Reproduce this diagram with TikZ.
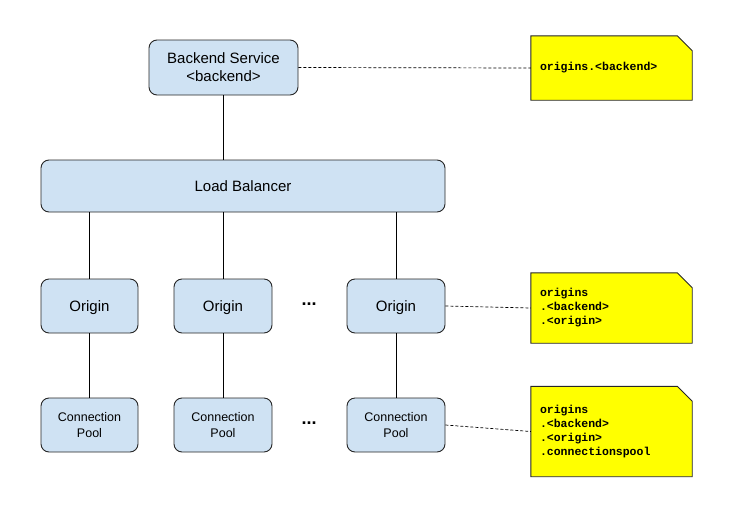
\documentclass[tikz,border=0pt]{standalone}
\usepackage{fontspec}
\setmainfont{Liberation Sans}
\newfontfamily\notefont{Liberation Mono}
\usetikzlibrary{backgrounds}
\definecolor{boxblue}{HTML}{CFE2F3}
\definecolor{noteyellow}{HTML}{FFFF00}
\begin{document}
\begin{tikzpicture}[x=1pt,y=-1pt,
  box/.style={draw=black!85, line width=0.9pt, fill=boxblue, rounded corners=8pt, inner sep=0pt, align=center},
  bigtext/.style={font=\fontsize{15}{18}\selectfont},
  oneline/.style={text height=11pt, text depth=0pt},
  smalltext/.style={font=\fontsize{12.5}{16.5}\selectfont},
  notebox/.style={inner sep=0pt, minimum width=161pt, text width=143pt, align=left, font=\notefont\bfseries\fontsize{11.5}{14}\selectfont},
  link/.style={draw=black, line width=0.8pt},
  dlink/.style={draw=black, line width=0.7pt, dash pattern=on 3pt off 2pt},
  dots/.style={font=\bfseries\fontsize{18}{18}\selectfont, inner sep=0pt}]
\useasboundingbox (0,0) rectangle (739,509);

\node[box, bigtext, minimum width=149pt, minimum height=55pt] (be) at (223.5,67.5) {Backend Service\\<backend>};
\node[box, bigtext, oneline, minimum width=404pt, minimum height=52pt] (lb) at (243,186) {Load Balancer};

\node[box, bigtext, oneline, minimum width=97pt, minimum height=54pt] (o1) at (89.5,306) {Origin};
\node[box, bigtext, oneline, minimum width=98pt, minimum height=54pt] (o2) at (223,306) {Origin};
\node[box, bigtext, oneline, minimum width=98pt, minimum height=54pt] (o3) at (396,306) {Origin};

\node[box, smalltext, minimum width=97pt, minimum height=54pt] (p1) at (89.5,425) {Connection\\Pool};
\node[box, smalltext, minimum width=98pt, minimum height=54pt] (p2) at (223,425) {Connection\\Pool};
\node[box, smalltext, minimum width=98pt, minimum height=54pt] (p3) at (396,425) {Connection\\Pool};

\node[dots] (d1) at (309,304) {...};
\node[dots] (d2) at (309,423) {...};

\node[notebox, minimum height=64pt] (n1) at (611.5,68) {origins.<backend>};
\node[notebox, minimum height=70pt] (n2) at (611.5,308) {origins\\.<backend>\\.<origin>};
\node[notebox, minimum height=90pt] (n3) at (611.5,431.5) {origins\\.<backend>\\.<origin>\\.connectionspool};

\begin{scope}[on background layer]
  \foreach \n in {n1,n2,n3}{
    \draw[fill=noteyellow, draw=black!85, line width=0.9pt]
      (\n.south west) -- (\n.north west) -- ([xshift=-15pt]\n.north east)
      -- ([yshift=-15pt]\n.north east) -- (\n.south east) -- cycle;
  }
\end{scope}

\draw[link] (be.south) -- (be.south |- lb.north);
\draw[link] (lb.south -| o1.north) -- (o1.north);
\draw[link] (lb.south -| o2.north) -- (o2.north);
\draw[link] (lb.south -| o3.north) -- (o3.north);
\draw[link] (o1.south) -- (p1.north);
\draw[link] (o2.south) -- (p2.north);
\draw[link] (o3.south) -- (p3.north);

\draw[dlink] (be.east) -- (n1.west);
\draw[dlink] (o3.east) -- (n2.west);
\draw[dlink] (p3.east) -- (n3.west);
\end{tikzpicture}
\end{document}
